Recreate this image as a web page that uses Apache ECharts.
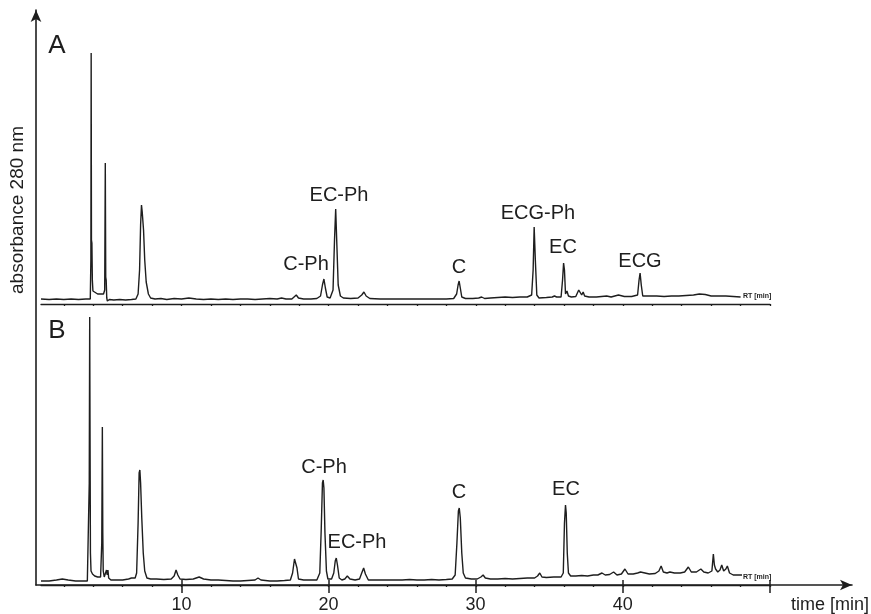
<!DOCTYPE html>
<html>
<head>
<meta charset="utf-8">
<script src="https://cdn.jsdelivr.net/npm/echarts@6/dist/echarts.min.js"></script>
<style>
html,body{margin:0;padding:0;background:#fff;}
#chart{width:871px;height:614px;}
</style>
</head>
<body>
<div id="chart"></div>
<script>
// ---------------- DATA ----------------
// Chromatogram A: [time (min), absorbance (arb. units)]
var traceA = [
[0.45,1],[1.0,0.5],[1.5,1],[2.0,0.5],[2.5,1],[3.0,0.5],[3.5,1],[3.8,1],
[3.84,40],[3.86,247],[3.88,60],[3.91,57],[3.94,20],[3.98,9],[4.1,7],[4.3,6],[4.5,6],[4.7,6],
[4.78,10],[4.82,137],[4.85,23],[4.88,20],[4.92,2],[4.96,-1],[5.1,0.5],[5.4,0],[5.8,0.5],[6.2,0],[6.6,0.5],[6.9,1],
[7.05,6],[7.15,30],[7.22,75],[7.28,95],[7.33,88],[7.37,90],[7.42,70],[7.5,40],[7.6,18],[7.75,6],[7.9,2],[8.2,1],
[8.6,1.5],[9.0,0.5],[9.5,1.5],[10.0,1],[10.5,2],[11.0,1],[11.5,0.5],[12.0,1],[12.5,0.5],[13.0,1],[13.5,0.5],[14.0,1],
[14.5,1],[15.0,0.5],[15.5,1],[16.0,1.5],[16.5,1],[16.8,2],[17.1,1],[17.5,1],
[17.65,3],[17.8,5],[17.95,2],[18.3,1],[18.8,1],[19.2,1.5],[19.45,4],[19.58,15],[19.68,21],[19.78,12],[19.9,3],[20.1,2],
[20.3,10],[20.4,60],[20.48,91],[20.56,55],[20.65,15],[20.8,4],[21.0,2],[21.5,1.5],[22.0,2],[22.25,5],[22.4,8],[22.55,4],
[22.8,1.5],[23.5,1],[24.0,1],[25,1],[26,1],[27,1],[28,1],[28.5,1.5],
[28.7,6],[28.8,15],[28.87,19],[28.95,12],[29.05,3],[29.3,1.5],[29.8,1.5],[30.2,2],[30.4,3],[30.6,1.5],[31.0,2],[31.5,2.5],
[32,3],[32.5,2.5],[33,3],[33.5,3],[33.8,5],
[33.9,30],[33.97,73],[34.05,40],[34.15,5],[34.3,2],[34.8,2.5],[35.2,3],[35.35,4],[35.5,3],[35.8,3],
[35.9,20],[35.97,37],[36.03,30],[36.1,6],[36.2,9],[36.3,4],[36.5,3],[36.8,3.5],[37.0,10],[37.1,11],[37.2,5],[37.3,8],[37.4,4],
[37.7,3],[38.2,3],[38.9,4],[39.2,3],[39.7,5],[40.1,3.5],[40.6,3.5],[41.0,5],[41.1,20],[41.17,27],[41.25,15],[41.35,4],
[41.7,4],[42.3,4],[42.8,3.5],[43.3,4],[43.8,4],[44.3,4.5],[44.8,5],[45.2,6],[45.6,5.5],[46.0,4],[46.5,4],[47.0,4],
[47.5,3.5],[48.0,3]
];
// Chromatogram B: [time (min), absorbance (arb. units)]
var traceB = [
[0.45,2],[1.0,2],[1.5,3],[1.9,4],[2.3,3],[2.8,2],[3.2,2],[3.6,2],[3.7,3],
[3.73,100],[3.76,266],[3.78,163],[3.81,30],[3.85,12],[3.95,9],[4.1,7],[4.3,6],[4.5,6],
[4.58,40],[4.62,156],[4.65,50],[4.68,12],[4.75,6],[4.85,8],[4.9,13],[4.95,8],[5.0,13],[5.05,5],[5.2,3],[5.6,3],[6.0,3],
[6.4,4],[6.6,5],[6.7,6],[6.85,5],
[6.95,10],[7.05,60],[7.12,110],[7.17,113],[7.22,100],[7.3,65],[7.4,30],[7.5,12],[7.65,5],[7.9,4],[8.3,4],[8.8,3.5],
[9.3,4],[9.5,7],[9.63,13],[9.75,8],[9.9,4],[10.3,3.5],[10.8,4],[11.2,6],[11.5,4],[12,3],[12.5,3],[13,2.5],[13.5,2],[14,2],
[14.5,2.5],[15,3],[15.2,5],[15.4,3],[16,2],[16.5,2],[17,2.5],[17.4,3],
[17.55,10],[17.68,24],[17.75,26],[17.85,15],[17.95,4],[18.3,3],[18.8,3],[19.2,3],
[19.4,10],[19.5,55],[19.58,100],[19.63,103],[19.68,95],[19.75,50],[19.85,12],[19.95,4],[20.2,4],
[20.35,10],[20.45,22],[20.52,25],[20.6,18],[20.72,5],[20.9,3],[21.1,4],[21.27,7],[21.45,4],[21.8,3],
[22.1,4],[22.25,10],[22.38,15],[22.5,9],[22.7,3],[23,3],[23.5,3],[24,3],[24.5,3],[25,3],[25.5,3.5],[26,3],[26.5,3],
[27,3.5],[27.5,3],[28,3.5],[28.4,4],
[28.6,8],[28.72,40],[28.82,72],[28.88,75],[28.95,65],[29.05,30],[29.15,10],[29.3,5],[29.7,4],[30.1,4],[30.35,6],[30.5,8],
[30.65,5],[31.0,4],[31.5,4],[32,4.5],[32.5,4],[33,4.5],[33.5,5],[34,5],[34.2,7],[34.35,10],[34.5,6],[34.8,5.5],[35.3,6],
[35.8,6],[35.95,10],[36.03,60],[36.1,78],[36.15,70],[36.22,30],[36.3,10],[36.45,7],[36.8,7],[37.2,7.5],[37.6,7],[38.0,8],
[38.3,8],[38.58,10],[38.8,8],[39.1,8.5],[39.37,11],[39.6,8],[39.9,9],[40.14,14],[40.35,9],[40.7,9],[41.0,10],[41.2,11],
[41.5,10],[41.8,9],[42.2,9.5],[42.45,12],[42.6,17],[42.75,11],[43.0,10],[43.2,11],[43.5,10],[43.9,10],[44.2,11],
[44.45,16],[44.65,11],[45.0,11],[45.3,14],[45.5,11],[45.8,10],[46.05,12],[46.15,29],[46.22,18],[46.3,14],[46.45,11],
[46.6,13],[46.72,18],[46.85,12],[47.0,14],[47.1,17],[47.25,10],[47.5,8],[47.8,8],[48.1,8]
];
var xTickLabels = [10, 20, 30, 40];
var xMajorTicks = [10, 20, 30, 40, 50];
var xMinorTicks = [2,4,6,8,10,12,14,16,18,20,22,24,26,28,30,32,34,36,38,40,42,44,46,48,50];
var peakNamesA = ['C-Ph', 'EC-Ph', 'C', 'ECG-Ph', 'EC', 'ECG'];
var peakNamesB = ['C-Ph', 'EC-Ph', 'C', 'EC'];
var panelNames = ['A', 'B'];
var xTitle = 'time [min]';
var yTitle = 'absorbance 280 nm';
var rtText = 'RT [min]';

// ---------------- LAYOUT ----------------
var peakPosA = [[306,264],[339,195],[459,267],[538,213],[563,247],[640,261]];
var peakPosB = [[324,467],[357,542],[459,492],[566,489]];
var FONT = '"Liberation Sans", Arial, Helvetica, sans-serif';
var INK = '#1e1e1e';

var chart = echarts.init(document.getElementById('chart'), null, {renderer: 'canvas'});

var graphics = [];
function txt(s, x, y, size, extra) {
  var o = {
    type: 'text', x: x, y: y, silent: true,
    style: {text: s, fill: INK, font: size + 'px ' + FONT, textAlign: 'center', textVerticalAlign: 'middle'}
  };
  if (extra) for (var k in extra) o[k] = extra[k];
  graphics.push(o);
}
peakNamesA.forEach(function (n, i) { txt(n, peakPosA[i][0], peakPosA[i][1], 20); });
peakNamesB.forEach(function (n, i) { txt(n, peakPosB[i][0], peakPosB[i][1], 20); });
txt(panelNames[0], 57, 46, 26);
txt(panelNames[1], 57, 331, 26);
txt(xTitle, 830, 605, 18);
txt(yTitle, 18, 210, 19, {rotation: Math.PI / 2});
graphics.push({type: 'text', x: 743, y: 296, silent: true,
  style: {text: rtText, fill: INK, font: 'bold 7px ' + FONT, textAlign: 'left', textVerticalAlign: 'middle'}});
graphics.push({type: 'text', x: 743, y: 577, silent: true,
  style: {text: rtText, fill: INK, font: 'bold 7px ' + FONT, textAlign: 'left', textVerticalAlign: 'middle'}});

var axisLineStyle = {color: INK, width: 1.6};

var option = {
  animation: false,
  backgroundColor: '#fff',
  grid: [
    {left: 36, right: 19, top: 10, bottom: 29},      // main frame
    {left: 41, right: 101, top: 40, bottom: 310},    // panel A
    {left: 41, right: 101, top: 313, bottom: 29}     // panel B
  ],
  xAxis: [
    {gridIndex: 0, type: 'value', min: 0.1, max: 55.6, position: 'bottom',
     axisLine: {show: true, onZero: false, lineStyle: axisLineStyle, symbol: ['none', 'arrow'], symbolSize: [8, 12]},
     axisTick: {show: true, customValues: xMajorTicks, length: 8, inside: false, lineStyle: {color: INK, width: 1.5}},
     axisLabel: {show: true, customValues: xTickLabels, color: INK, fontSize: 18, fontFamily: FONT, margin: 11},
     splitLine: {show: false}},
    {gridIndex: 0, type: 'value', min: 0.1, max: 55.6, position: 'bottom',
     axisLine: {show: false, onZero: false},
     axisTick: {show: true, customValues: xMajorTicks, length: 5, inside: true, lineStyle: {color: INK, width: 1.5}},
     axisLabel: {show: false}, splitLine: {show: false}},
    {gridIndex: 1, type: 'value', min: 0.45, max: 50, position: 'bottom',
     axisLine: {show: true, onZero: false, lineStyle: {color: INK, width: 1.3}},
     axisTick: {show: true, customValues: xMinorTicks, length: 2, lineStyle: {color: INK, width: 1.3}},
     axisLabel: {show: false}, splitLine: {show: false}},
    {gridIndex: 2, type: 'value', min: 0.45, max: 50, position: 'bottom',
     axisLine: {show: true, onZero: false, lineStyle: {color: INK, width: 1.3}},
     axisTick: {show: true, customValues: xMinorTicks, length: 2, lineStyle: {color: INK, width: 1.3}},
     axisLabel: {show: false}, splitLine: {show: false}}
  ],
  yAxis: [
    {gridIndex: 0, type: 'value', min: 0, max: 1,
     axisLine: {show: true, onZero: false, lineStyle: axisLineStyle, symbol: ['none', 'arrow'], symbolSize: [8, 12]},
     axisTick: {show: false}, axisLabel: {show: false}, splitLine: {show: false}},
    {gridIndex: 1, type: 'value', min: -4, max: 260, show: false},
    {gridIndex: 2, type: 'value', min: -2, max: 270, show: false}
  ],
  series: [
    {type: 'line', xAxisIndex: 2, yAxisIndex: 1, data: traceA, showSymbol: false, symbol: 'none',
     lineStyle: {color: '#1e1e1e', width: 1.4}, silent: true},
    {type: 'line', xAxisIndex: 3, yAxisIndex: 2, data: traceB, showSymbol: false, symbol: 'none',
     lineStyle: {color: '#1e1e1e', width: 1.4}, silent: true}
  ],
  graphic: graphics
};
chart.setOption(option);
</script>
</body>
</html>
